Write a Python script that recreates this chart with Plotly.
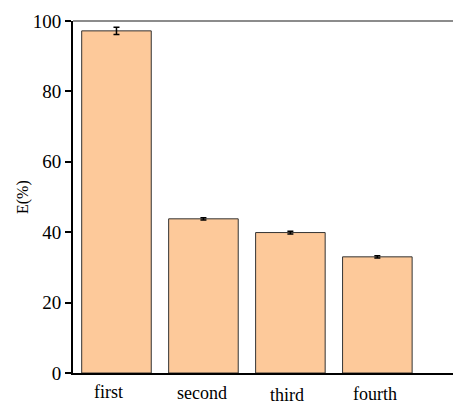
import plotly.graph_objects as go

categories = ["first", "second", "third", "fourth"]
values = [97.2, 43.8, 39.9, 33.0]
errors = [1.0, 0.3, 0.4, 0.3]
y_ticks = [0, 20, 40, 60, 80, 100]
label_xshift = [-8, -1, -3, -2]
label_yshift = [0, -1, -3, -2]

FONT = "Times New Roman"

fig = go.Figure()
fig.add_trace(go.Bar(
    x=list(range(len(categories))),
    y=values,
    marker=dict(color="#FDC99A", line=dict(color="#333333", width=1)),
    error_y=dict(type="data", array=errors, visible=True, color="black",
                 thickness=1.5, width=3),
    width=0.8,
))

for i, c in enumerate(categories):
    fig.add_annotation(x=i, y=0, xref="x", yref="paper", text=c,
                       showarrow=False, yanchor="top", xanchor="center",
                       xshift=label_xshift[i], yshift=-7 + label_yshift[i],
                       font=dict(family=FONT, size=18, color="black"))

fig.add_annotation(x=0, y=0.5, xref="paper", yref="paper", text="E(%)",
                   showarrow=False, textangle=-90, xanchor="center", yanchor="middle",
                   xshift=-50, font=dict(family=FONT, size=16, color="black"))

fig.add_shape(type="line", xref="paper", yref="paper", x0=0, x1=1, y0=1, y1=1,
              line=dict(color="#666666", width=1.5))

fig.update_layout(
    width=453, height=401,
    margin=dict(l=73, r=0, t=21, b=28),
    plot_bgcolor="white", paper_bgcolor="white",
    showlegend=False,
    font=dict(family=FONT, size=18, color="black"),
    xaxis=dict(range=[-0.5, 3.87], showline=True, linecolor="black", linewidth=2,
               showticklabels=False, ticks="", showgrid=False, zeroline=False),
    yaxis=dict(range=[0, 100], tickvals=y_ticks, showline=True, linecolor="black",
               linewidth=2, ticks="outside", ticklen=6, tickwidth=2, tickcolor="black",
               showgrid=False, zeroline=False,
               tickfont=dict(family=FONT, size=19, color="black")),
)

fig.write_html("out.html")
